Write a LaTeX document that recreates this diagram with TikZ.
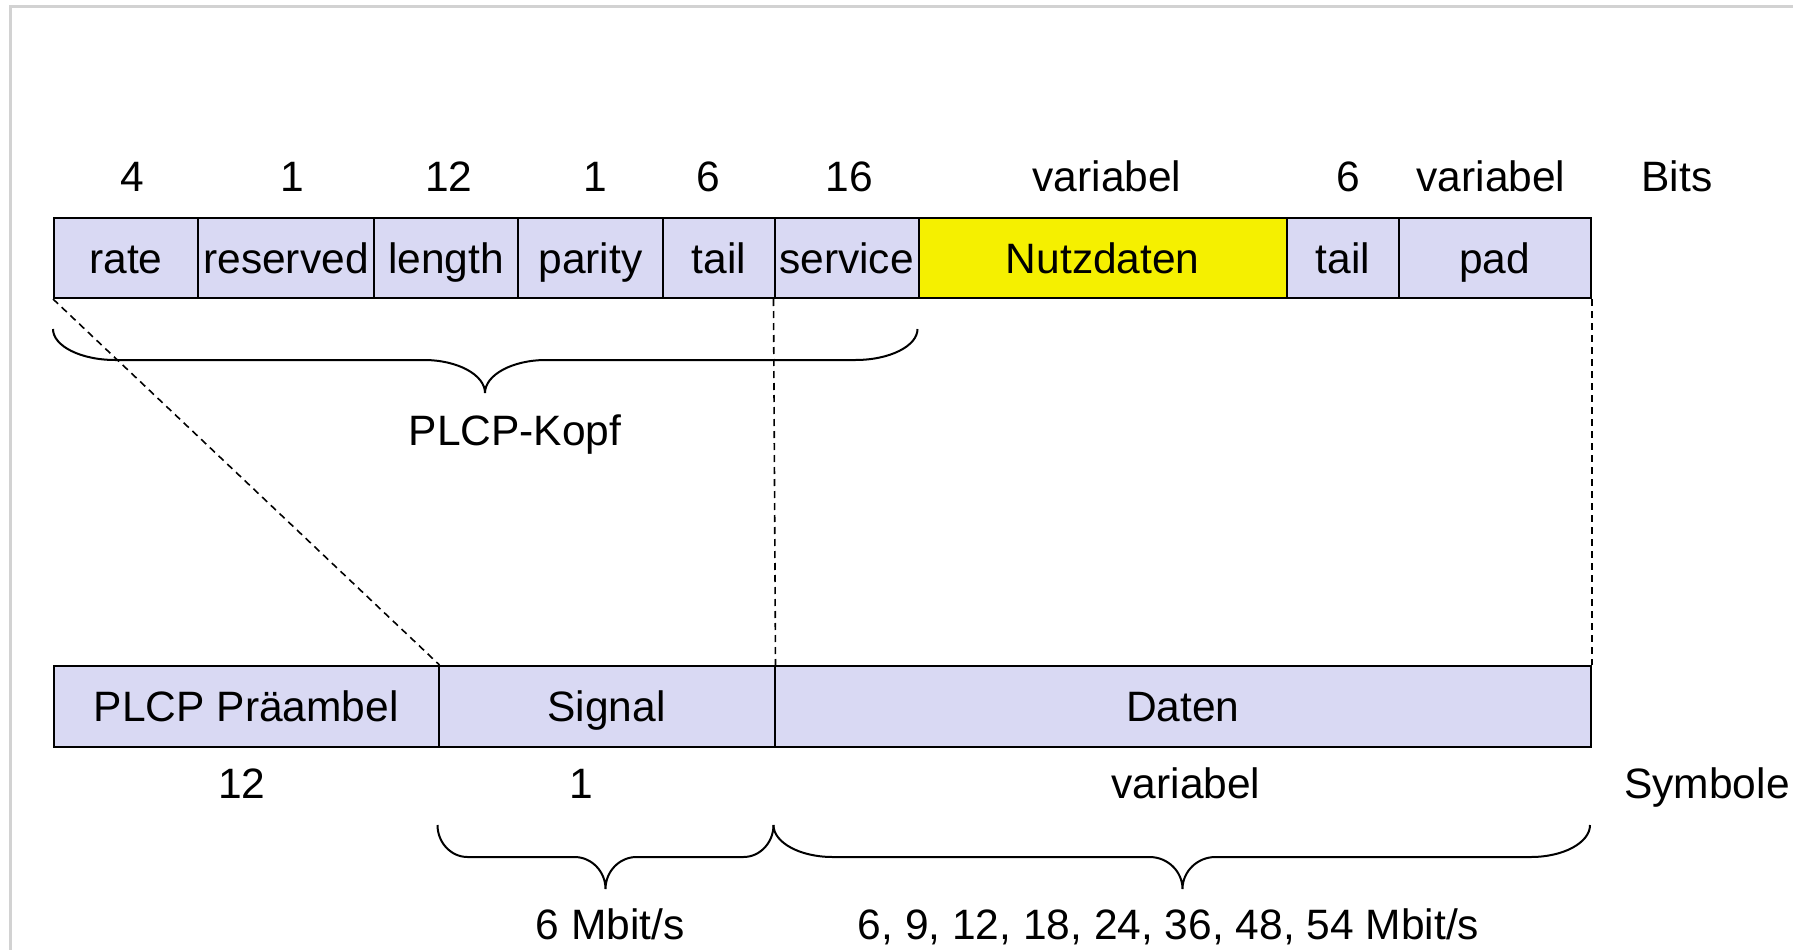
\documentclass[tikz,border=0pt]{standalone}
\usepackage{fontspec}
\setmainfont{Liberation Sans}
\usetikzlibrary{calc}
\definecolor{lav}{RGB}{217,217,243}
\definecolor{ylw}{RGB}{245,240,0}
\definecolor{frm}{RGB}{210,210,210}
\newcommand\fnt{\fontsize{42.5}{51}\selectfont}
\tikzset{
 fld/.style={draw=black, line width=2pt, fill=lav, minimum height=80pt, inner sep=0pt, anchor=north west, text height=30pt, text depth=0pt, font=\fnt},
 lbl/.style={inner sep=0pt, text height=30pt, text depth=0pt, font=\fnt},
 dsh/.style={line width=1.6pt, dash pattern=on 7pt off 5pt},
 brc/.style={line width=2pt},
}
% x1 x2 xt r rt y0 y1 y2
\newcommand\mybrc[8]{%
\draw[brc] (#1,#6) .. controls (#1,{#6+0.55*(#7-#6)}) and ({#1+0.45*#4},#7) .. ({#1+#4},#7)
 -- ({#3-#5},#7) .. controls ({#3-0.45*#5},#7) and (#3,{#7+0.45*(#8-#7)}) .. (#3,#8)
 .. controls (#3,{#7+0.45*(#8-#7)}) and ({#3+0.45*#5},#7) .. ({#3+#5},#7)
 -- ({#2-#4},#7) .. controls ({#2-0.45*#4},#7) and (#2,{#6+0.55*(#7-#6)}) .. (#2,#6);}
\begin{document}
\begin{tikzpicture}[x=1pt,y=-1pt]
\useasboundingbox (0,0) rectangle (1805,950);
\draw[frm, line width=3pt] (10,950) -- (10,7) -- (1793,7);
% top row
\node[fld, minimum width=144pt] (rate) at (53,217) {rate};
\node[fld, minimum width=176pt] (res) at (197,217) {reserved};
\node[fld, minimum width=144pt] (len) at (373,217) {length};
\node[fld, minimum width=145pt] (par) at (517,217) {parity};
\node[fld, minimum width=111.5pt] (tail1) at (662,217) {tail};
\node[fld, minimum width=144pt] (serv) at (773.5,217) {service};
\node[fld, fill=ylw, minimum width=368.5pt] (nutz) at (917.5,217) {Nutzdaten};
\node[fld, minimum width=111.5pt] (tail2) at (1286,217) {tail};
\node[fld, minimum width=192.5pt] (pad) at (1397.5,217) {pad};
% bit labels
\node[lbl] (b1) at (132,176) {4};
\node[lbl] (b2) at (292,176) {1};
\node[lbl] (b3) at (449,176) {12};
\node[lbl] (b4) at (595,176) {1};
\node[lbl] (b5) at (708,176) {6};
\node[lbl] (b6) at (849,176) {16};
\node[lbl] (b7) at (1107,176) {variabel};
\node[lbl] (b8) at (1348,176) {6};
\node[lbl] (b9) at (1491,176) {variabel};
\node[lbl] (bits) at (1677,176) {Bits};
% bottom row
\node[fld, minimum width=384.5pt, minimum height=81pt] (pre) at (53,665) {PLCP Präambel};
\node[fld, minimum width=336pt, minimum height=81pt] (sig) at (437.5,665) {Signal};
\node[fld, minimum width=816.5pt, minimum height=81pt] (dat) at (773.5,665) {Daten};
\node[lbl] (s1) at (242,783) {12};
\node[lbl] (s2) at (581,783) {1};
\node[lbl] (s3) at (1186,783) {variabel};
\node[lbl] (sym) at (1707,783) {Symbole};
% dashed connectors
\draw[dsh] (rate.south west) -- (pre.north east);
\draw[dsh] (serv.south west) -- (sig.north east);
\draw[dsh] (pad.south east) -- (dat.north east);
% braces
\mybrc{53}{917.5}{485}{62}{61}{329}{360}{393}
\mybrc{437.5}{773.5}{605.5}{30}{31}{825}{857}{889}
\mybrc{773.5}{1590}{1182.5}{59}{33}{825}{857}{889}
\node[lbl] (kopf) at (515,430) {PLCP-Kopf};
\node[lbl] (r6) at (610,924) {6 Mbit/s};
\node[lbl] (rall) at (1168.5,924) {6, 9, 12, 18, 24, 36, 48, 54 Mbit/s};
\end{tikzpicture}
\end{document}
